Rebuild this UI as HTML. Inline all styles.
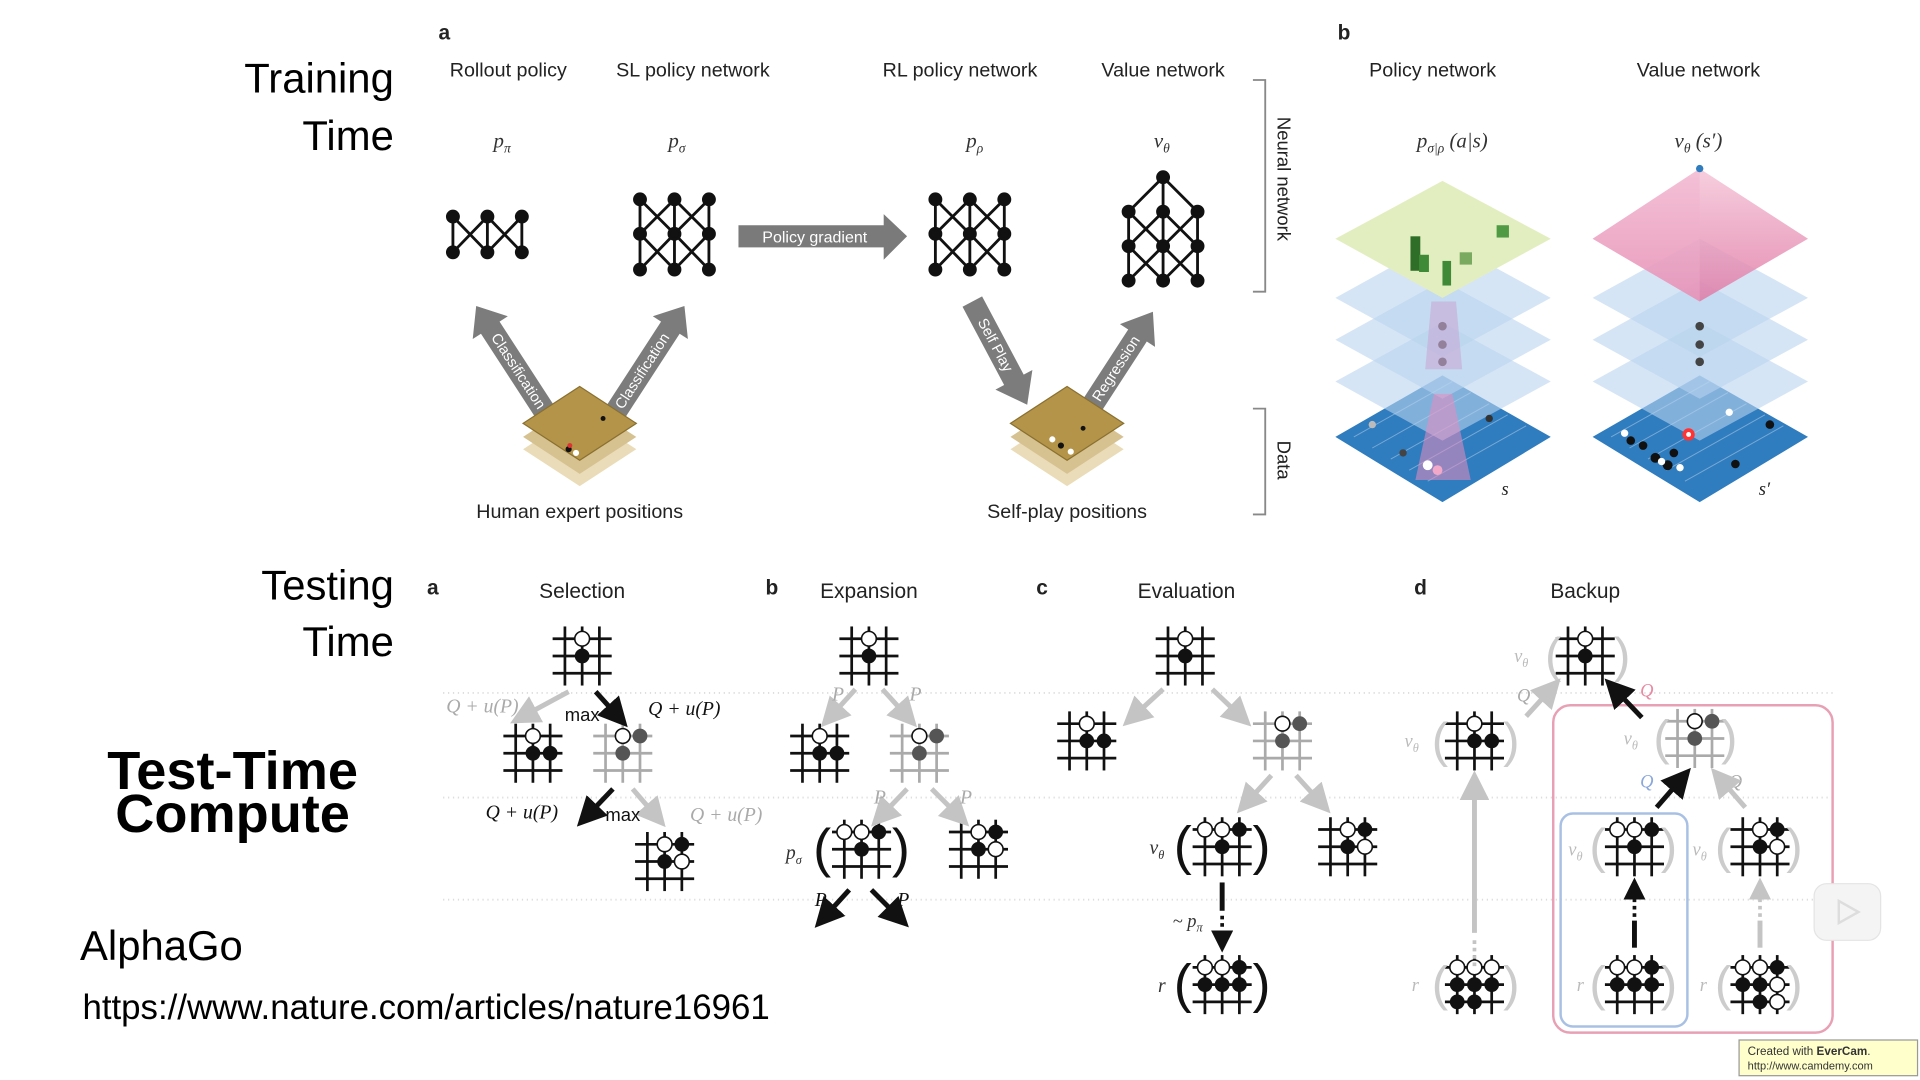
<!DOCTYPE html>
<html><head><meta charset="utf-8"><style>
html,body{margin:0;padding:0;background:#fff;}
svg{display:block}
.s{font-family:"Liberation Sans",sans-serif;}
.i{font-family:"Liberation Serif",serif;font-style:italic;}
</style></head><body>
<svg width="1920" height="1080" viewBox="0 0 1560 877.5" xmlns="http://www.w3.org/2000/svg">
<defs>
<g id="g" stroke="#111" stroke-width="2.2" fill="none">
<line x1="-14" y1="-24" x2="-14" y2="24"/><line x1="0" y1="-24" x2="0" y2="24"/><line x1="14" y1="-24" x2="14" y2="24"/>
<line x1="-24" y1="-14" x2="24" y2="-14"/><line x1="-24" y1="0" x2="24" y2="0"/><line x1="-24" y1="14" x2="24" y2="14"/>
</g>
<g id="gg" stroke="#aaa" stroke-width="2.2" fill="none">
<line x1="-14" y1="-24" x2="-14" y2="24"/><line x1="0" y1="-24" x2="0" y2="24"/><line x1="14" y1="-24" x2="14" y2="24"/>
<line x1="-24" y1="-14" x2="24" y2="-14"/><line x1="-24" y1="0" x2="24" y2="0"/><line x1="-24" y1="14" x2="24" y2="14"/>
</g>
<circle id="w" r="6" fill="#fff" stroke="#111" stroke-width="1.3"/>
<circle id="b" r="6" fill="#111"/>
<marker id="ah" markerWidth="6" markerHeight="6" refX="3" refY="3" orient="auto"><path d="M0,0 L6,3 L0,6z" fill="#111"/></marker>
<marker id="ahg" markerWidth="6" markerHeight="6" refX="3" refY="3" orient="auto"><path d="M0,0 L6,3 L0,6z" fill="#c4c4c4"/></marker>
<linearGradient id="pk" x1="0" y1="0" x2="0" y2="1"><stop offset="0" stop-color="#f5c6d8"/><stop offset="1" stop-color="#e07aa5"/></linearGradient>
</defs>

<g font-family="Liberation Sans, sans-serif" fill="#000">
<text x="320" y="75" font-size="34" text-anchor="end">Training</text>
<text x="320" y="122" font-size="34" text-anchor="end">Time</text>
<text x="320" y="487" font-size="34" text-anchor="end">Testing</text>
<text x="320" y="533" font-size="34" text-anchor="end">Time</text>
<text x="189" y="641" font-size="44" font-weight="bold" text-anchor="middle">Test-Time</text>
<text x="189" y="676" font-size="44" font-weight="bold" text-anchor="middle">Compute</text>
<text x="65" y="780" font-size="34">AlphaGo</text>
<text x="67" y="828" font-size="28.3">https://www.nature.com/articles/nature16961</text>
</g>

<g class="s" font-size="16" fill="#222" text-anchor="middle">
<text x="361" y="32" font-weight="bold" font-size="17">a</text>
<text x="413" y="62">Rollout policy</text>
<text x="563" y="62">SL policy network</text>
<text x="780" y="62">RL policy network</text>
<text x="945" y="62">Value network</text>
<text x="1092" y="32" font-weight="bold" font-size="17">b</text>
<text x="1164" y="62">Policy network</text>
<text x="1380" y="62">Value network</text>
<text x="471" y="421">Human expert positions</text>
<text x="867" y="421">Self-play positions</text>
</g>
<g class="i" font-size="17" fill="#333" text-anchor="middle">
<text x="408" y="120">p<tspan font-size="11" dy="4">π</tspan></text>
<text x="550" y="120">p<tspan font-size="11" dy="4">σ</tspan></text>
<text x="792" y="120">p<tspan font-size="11" dy="4">ρ</tspan></text>
<text x="944" y="120">v<tspan font-size="11" dy="4">θ</tspan></text>
<text x="1180" y="120">p<tspan font-size="11" dy="4">σ|ρ</tspan><tspan dy="-4"> (a|s)</tspan></text>
<text x="1380" y="120">v<tspan font-size="11" dy="4">θ</tspan><tspan dy="-4"> (s′)</tspan></text>
</g>

<g stroke="#111" stroke-width="2.3" fill="#111">
<path d="M368,176L368,205M396,176L396,205M424,176L424,205M368,176L396,205M396,176L368,205M396,176L424,205M424,176L396,205" fill="none"/>
<circle cx="368" cy="176" r="4.5"/><circle cx="396" cy="176" r="4.5"/><circle cx="424" cy="176" r="4.5"/>
<circle cx="368" cy="205" r="4.5"/><circle cx="396" cy="205" r="4.5"/><circle cx="424" cy="205" r="4.5"/>
<g id="sl">
<path d="M520,162L520,219M548,162L548,219M576,162L576,219M520,162L548,190L520,219M548,162L520,190L548,219M548,162L576,190L548,219M576,162L548,190L576,219" fill="none"/>
<circle cx="520" cy="162" r="4.5"/><circle cx="548" cy="162" r="4.5"/><circle cx="576" cy="162" r="4.5"/>
<circle cx="520" cy="190" r="4.5"/><circle cx="548" cy="190" r="4.5"/><circle cx="576" cy="190" r="4.5"/>
<circle cx="520" cy="219" r="4.5"/><circle cx="548" cy="219" r="4.5"/><circle cx="576" cy="219" r="4.5"/>
</g>
<use href="#sl" x="240"/>
<path d="M945,144L917,172L917,228M945,144L945,228M945,144L973,172L973,228M917,172L945,200L917,228M945,172L917,200L945,228M945,172L973,200L945,228M973,172L945,200L973,228M917,200L945,228M917,172L945,200" fill="none"/>
<circle cx="945" cy="144" r="4.5"/>
<circle cx="917" cy="172" r="4.5"/><circle cx="945" cy="172" r="4.5"/><circle cx="973" cy="172" r="4.5"/>
<circle cx="917" cy="200" r="4.5"/><circle cx="945" cy="200" r="4.5"/><circle cx="973" cy="200" r="4.5"/>
<circle cx="917" cy="228" r="4.5"/><circle cx="945" cy="228" r="4.5"/><circle cx="973" cy="228" r="4.5"/>
</g>

<path d="M600,183L718,183L718,174L737,192L718,211L718,201L600,201z" fill="#7a7a7a"/>
<text x="662" y="197" class="s" font-size="13" fill="#fff" text-anchor="middle">Policy gradient</text>

<g fill="#7c7c7c">
<g transform="translate(443,335) rotate(-33)"><path d="M-9,0L-9,-82L-17,-82L0,-103L17,-82L9,-82L9,0z"/><text x="0" y="-40" transform="rotate(90 0 -40)" class="s" font-size="12" fill="#fff" text-anchor="middle" dy="4">Classification</text></g>
<g transform="translate(500,335) rotate(33)"><path d="M-9,0L-9,-82L-17,-82L0,-103L17,-82L9,-82L9,0z"/><text x="0" y="-40" transform="rotate(-90 0 -40)" class="s" font-size="12" fill="#fff" text-anchor="middle" dy="4">Classification</text></g>
<g transform="translate(790,245) rotate(-28)"><path d="M-9,0L-9,72L-17,72L0,95L17,72L9,72L9,0z"/><text x="0" y="40" transform="rotate(90 0 40)" class="s" font-size="12" fill="#fff" text-anchor="middle" dy="4">Self Play</text></g>
<g transform="translate(885,333) rotate(33)"><path d="M-9,0L-9,-72L-17,-72L0,-95L17,-72L9,-72L9,0z"/><text x="0" y="-40" transform="rotate(-90 0 -40)" class="s" font-size="12" fill="#fff" text-anchor="middle" dy="4">Regression</text></g>
</g>

<g id="bd">
<path d="M471,335L517,365L471,395L425,365z" fill="#eadcb8"/>
<path d="M471,325L517,355L471,385L425,355z" fill="#d6c190"/>
<path d="M471,314L517,344L471,374L425,344z" fill="#b49448"/>
<path d="M471,314L517,344L471,374L425,344z" fill="none" stroke="#8a7030" stroke-width="1"/>
</g>
<circle cx="490" cy="340" r="2" fill="#111"/><circle cx="462" cy="365" r="2.5" fill="#111"/><circle cx="468" cy="368" r="2.5" fill="#fff"/><circle cx="463" cy="362" r="2" fill="#d33"/>
<use href="#bd" x="396"/>
<circle cx="855" cy="357" r="2.5" fill="#fff"/><circle cx="862" cy="362" r="2.5" fill="#111"/><circle cx="870" cy="367" r="2.5" fill="#fff"/><circle cx="880" cy="348" r="2" fill="#111"/>

<g stroke="#888" stroke-width="1.5" fill="none">
<path d="M1018,65L1028,65L1028,237L1018,237"/>
<path d="M1018,332L1028,332L1028,418L1018,418"/>
</g>
<text class="s" font-size="15" fill="#222" transform="translate(1038,95) rotate(90)">Neural network</text>
<text class="s" font-size="15" fill="#222" transform="translate(1038,358) rotate(90)">Data</text>

<g id="stk">
<path d="M1172,305L1260,355L1172,408L1085,355z" fill="#2f7cbf"/>
<g stroke="#fff" stroke-opacity="0.35" stroke-width="0.8">
<line x1="1100" y1="355" x2="1180" y2="310"/><line x1="1115" y1="364" x2="1195" y2="319"/><line x1="1130" y1="373" x2="1210" y2="328"/><line x1="1145" y1="382" x2="1225" y2="337"/><line x1="1160" y1="391" x2="1240" y2="346"/>
</g>
<path d="M1172,262L1260,310L1172,358L1085,310z" fill="#b9d4ee" fill-opacity="0.6"/>
<path d="M1172,228L1260,276L1172,324L1085,276z" fill="#b9d4ee" fill-opacity="0.6"/>
<path d="M1172,194L1260,242L1172,290L1085,242z" fill="#b9d4ee" fill-opacity="0.6"/>
<circle cx="1172" cy="265" r="3.5" fill="#444"/><circle cx="1172" cy="280" r="3.5" fill="#444"/><circle cx="1172" cy="294" r="3.5" fill="#444"/>
</g>
<path d="M1172,147L1260,194L1172,242L1085,194z" fill="#e3eec0"/>
<path d="M1163,245L1183,245L1188,300L1158,300z" fill="#c8a9d6" fill-opacity="0.6"/>
<path d="M1165,320L1180,320L1195,390L1150,390z" fill="#e88cc0" fill-opacity="0.55"/>
<rect x="1146" y="192" width="8" height="28" fill="#2f6e28"/><rect x="1153" y="207" width="8" height="14" fill="#3f8a36"/>
<rect x="1172" y="212" width="7" height="20" fill="#3f8a36"/><rect x="1186" y="205" width="10" height="10" fill="#7aa960"/><rect x="1216" y="183" width="10" height="10" fill="#4f9a43"/>
<circle cx="1160" cy="378" r="4" fill="#fff"/><circle cx="1168" cy="382" r="4" fill="#f2a8c8"/><circle cx="1140" cy="368" r="3" fill="#444"/><circle cx="1210" cy="340" r="3" fill="#333"/><circle cx="1115" cy="345" r="3" fill="#bbb"/>
<use href="#stk" x="209"/>
<path d="M1381,137L1469,194L1381,245L1294,194z" fill="url(#pk)" fill-opacity="0.85"/>
<path d="M1381,137L1381,245L1294,194z" fill="#f0b0cc" fill-opacity="0.4"/>
<circle cx="1381" cy="137" r="3" fill="#2f7cbf"/>
<circle cx="1372" cy="353" r="5" fill="#f33"/><circle cx="1372" cy="353" r="2" fill="#fff"/>
<g fill="#111"><circle cx="1325" cy="358" r="3.5"/><circle cx="1335" cy="362" r="3.5"/><circle cx="1345" cy="372" r="4"/><circle cx="1355" cy="378" r="4"/><circle cx="1360" cy="368" r="3.5"/><circle cx="1410" cy="377" r="3.5"/><circle cx="1438" cy="345" r="3.5"/></g>
<g fill="#fff"><circle cx="1320" cy="352" r="3"/><circle cx="1350" cy="375" r="3"/><circle cx="1365" cy="380" r="3"/><circle cx="1405" cy="335" r="3"/></g>
<text class="i" x="1220" y="402" font-size="15" fill="#222">s</text>
<text class="i" x="1429" y="402" font-size="15" fill="#222">s′</text>

<g stroke="#ddd" stroke-width="1.5" stroke-dasharray="1,3">
<line x1="360" y1="563" x2="1490" y2="563"/><line x1="360" y1="648" x2="1490" y2="648"/><line x1="360" y1="731" x2="1490" y2="731"/>
</g>
<g class="s" font-size="17" fill="#222">
<text x="347" y="483" font-weight="bold">a</text><text x="622" y="483" font-weight="bold">b</text><text x="842" y="483" font-weight="bold">c</text><text x="1149" y="483" font-weight="bold">d</text>
<text x="473" y="486" text-anchor="middle">Selection</text><text x="706" y="486" text-anchor="middle">Expansion</text><text x="964" y="486" text-anchor="middle">Evaluation</text><text x="1288" y="486" text-anchor="middle">Backup</text>
</g>

<g transform="translate(473,533)"><use href="#g"/><use href="#w" y="-14"/><use href="#b"/></g>
<g transform="translate(433,612)"><use href="#g"/><use href="#w" y="-14"/><use href="#b" y="0"/><use href="#b" x="14"/></g>
<g transform="translate(506,612)"><use href="#gg"/><use href="#w" y="-14"/><circle cx="14" cy="-14" r="6" fill="#555"/><circle r="6" fill="#555"/></g>
<g transform="translate(540,700)"><use href="#g"/><use href="#w" y="-14"/><use href="#b" x="14" y="-14"/><use href="#b"/><use href="#w" x="14"/></g>
<g stroke-width="4" fill="none">
<line x1="462" y1="562" x2="425" y2="582" stroke="#c4c4c4" marker-end="url(#ahg)"/>
<line x1="484" y1="562" x2="502" y2="582" stroke="#111" marker-end="url(#ah)"/>
<line x1="498" y1="641" x2="477" y2="663" stroke="#111" marker-end="url(#ah)"/>
<line x1="514" y1="641" x2="533" y2="663" stroke="#c4c4c4" marker-end="url(#ahg)"/>
</g>
<g class="i" font-size="16">
<text x="392" y="579" fill="#aaa" text-anchor="middle">Q + u(P)</text>
<text x="556" y="581" fill="#111" text-anchor="middle">Q + u(P)</text>
<text x="424" y="665" fill="#111" text-anchor="middle">Q + u(P)</text>
<text x="590" y="667" fill="#aaa" text-anchor="middle">Q + u(P)</text>
</g>
<text x="473" y="586" class="s" font-size="15" fill="#111" text-anchor="middle">max</text>
<text x="506" y="667" class="s" font-size="15" fill="#111" text-anchor="middle">max</text>

<g transform="translate(706,533)"><use href="#g"/><use href="#w" y="-14"/><use href="#b"/></g>
<g transform="translate(666,612)"><use href="#g"/><use href="#w" y="-14"/><use href="#b"/><use href="#b" x="14"/></g>
<g transform="translate(747,612)"><use href="#gg"/><use href="#w" y="-14"/><circle cx="14" cy="-14" r="6" fill="#555"/><circle r="6" fill="#555"/></g>
<g transform="translate(700,690)"><use href="#g"/><use href="#w" x="-14" y="-14"/><use href="#w" y="-14"/><use href="#b" x="14" y="-14"/><use href="#b"/></g>
<g transform="translate(795,690)"><use href="#g"/><use href="#w" y="-14"/><use href="#b" x="14" y="-14"/><use href="#b"/><use href="#w" x="14"/></g>
<text x="668" y="704" class="s" font-size="44" fill="#111" text-anchor="middle">(</text>
<text x="732" y="704" class="s" font-size="44" fill="#111" text-anchor="middle">)</text>
<text x="645" y="698" class="i" font-size="16" fill="#333" text-anchor="middle">p<tspan font-size="10" dy="4">σ</tspan></text>
<g stroke-width="4" fill="none">
<line x1="695" y1="560" x2="675" y2="582" stroke="#c4c4c4" marker-end="url(#ahg)"/>
<line x1="717" y1="560" x2="737" y2="582" stroke="#c4c4c4" marker-end="url(#ahg)"/>
<line x1="737" y1="641" x2="716" y2="663" stroke="#c4c4c4" marker-end="url(#ahg)"/>
<line x1="757" y1="641" x2="779" y2="663" stroke="#c4c4c4" marker-end="url(#ahg)"/>
<line x1="690" y1="723" x2="670" y2="745" stroke="#111" marker-end="url(#ah)"/>
<line x1="708" y1="723" x2="730" y2="745" stroke="#111" marker-end="url(#ah)"/>
</g>
<g class="i" font-size="16">
<text x="676" y="569" fill="#aaa">P</text><text x="739" y="569" fill="#aaa">P</text>
<text x="710" y="653" fill="#aaa">P</text><text x="780" y="653" fill="#aaa">P</text>
<text x="662" y="736" fill="#111">P</text><text x="729" y="736" fill="#111">P</text>
</g>

<g transform="translate(963,533)"><use href="#g"/><use href="#w" y="-14"/><use href="#b"/></g>
<g transform="translate(883,602)"><use href="#g"/><use href="#w" y="-14"/><use href="#b"/><use href="#b" x="14"/></g>
<g transform="translate(1042,602)"><use href="#gg"/><use href="#w" y="-14"/><circle cx="14" cy="-14" r="6" fill="#555"/><circle r="6" fill="#555"/></g>
<g transform="translate(993,688)"><use href="#g"/><use href="#w" x="-14" y="-14"/><use href="#w" y="-14"/><use href="#b" x="14" y="-14"/><use href="#b"/></g>
<g transform="translate(1095,688)"><use href="#g"/><use href="#w" y="-14"/><use href="#b" x="14" y="-14"/><use href="#b"/><use href="#w" x="14"/></g>
<g transform="translate(993,800)"><use href="#g"/><use href="#w" x="-14" y="-14"/><use href="#w" y="-14"/><use href="#b" x="14" y="-14"/><use href="#b" x="-14"/><use href="#b"/><use href="#b" x="14"/></g>
<text x="961" y="702" class="s" font-size="44" fill="#111" text-anchor="middle">(</text>
<text x="1025" y="702" class="s" font-size="44" fill="#111" text-anchor="middle">)</text>
<text x="961" y="814" class="s" font-size="44" fill="#111" text-anchor="middle">(</text>
<text x="1025" y="814" class="s" font-size="44" fill="#111" text-anchor="middle">)</text>
<text x="940" y="694" class="i" font-size="16" fill="#333" text-anchor="middle">v<tspan font-size="10" dy="4">θ</tspan></text>
<text x="944" y="806" class="i" font-size="16" fill="#333" text-anchor="middle">r</text>
<text x="965" y="753" class="i" font-size="15" fill="#333" text-anchor="middle">~ p<tspan font-size="10" dy="4">π</tspan></text>
<g stroke-width="4" fill="none">
<line x1="945" y1="560" x2="921" y2="582" stroke="#c4c4c4" marker-end="url(#ahg)"/>
<line x1="985" y1="560" x2="1008" y2="582" stroke="#c4c4c4" marker-end="url(#ahg)"/>
<line x1="1033" y1="630" x2="1013" y2="652" stroke="#c4c4c4" marker-end="url(#ahg)"/>
<line x1="1053" y1="630" x2="1073" y2="652" stroke="#c4c4c4" marker-end="url(#ahg)"/>
<line x1="993" y1="717" x2="993" y2="740" stroke="#111"/>
<line x1="993" y1="744" x2="993" y2="765" stroke="#111" stroke-dasharray="3,3" stroke-width="3" marker-end="url(#ah)"/>
</g>

<rect x="1262" y="573" width="227" height="266" rx="14" fill="none" stroke="#e8a0b4" stroke-width="2"/>
<rect x="1268" y="661" width="103" height="173" rx="10" fill="none" stroke="#a8c0e4" stroke-width="2"/>
<g transform="translate(1288,533)"><use href="#g"/><use href="#w" y="-14"/><use href="#b"/></g>
<g transform="translate(1198,602)"><use href="#g"/><use href="#w" y="-14"/><use href="#b"/><use href="#b" x="14"/></g>
<g transform="translate(1377,600)"><use href="#gg"/><use href="#w" y="-14"/><circle cx="14" cy="-14" r="6" fill="#555"/><circle r="6" fill="#555"/></g>
<g transform="translate(1328,688)"><use href="#g"/><use href="#w" x="-14" y="-14"/><use href="#w" y="-14"/><use href="#b" x="14" y="-14"/><use href="#b"/></g>
<g transform="translate(1430,688)"><use href="#g"/><use href="#w" y="-14"/><use href="#b" x="14" y="-14"/><use href="#b"/><use href="#w" x="14"/></g>
<g transform="translate(1198,800)"><use href="#g"/><use href="#w" x="-14" y="-14"/><use href="#w" y="-14"/><use href="#w" x="14" y="-14"/><use href="#b" x="-14"/><use href="#b"/><use href="#b" x="14"/><use href="#b" x="-14" y="14"/><use href="#b" y="14"/></g>
<g transform="translate(1328,800)"><use href="#g"/><use href="#w" x="-14" y="-14"/><use href="#w" y="-14"/><use href="#b" x="14" y="-14"/><use href="#b" x="-14"/><use href="#b"/><use href="#b" x="14"/></g>
<g transform="translate(1430,800)"><use href="#g"/><use href="#w" x="-14" y="-14"/><use href="#w" y="-14"/><use href="#b" x="14" y="-14"/><use href="#b" x="-14"/><use href="#b"/><use href="#w" x="14"/><use href="#b" y="14"/><use href="#w" x="14" y="14"/></g>
<g class="s" font-size="40" fill="#ccc" text-anchor="middle" font-weight="normal">
<text x="1262" y="546">(</text><text x="1318" y="546">)</text>
<text x="1170" y="615">(</text><text x="1228" y="615">)</text>
<text x="1350" y="613">(</text><text x="1405" y="613">)</text>
<text x="1298" y="701">(</text><text x="1356" y="701">)</text>
<text x="1400" y="701">(</text><text x="1458" y="701">)</text>
<text x="1170" y="813">(</text><text x="1228" y="813">)</text>
<text x="1298" y="813">(</text><text x="1356" y="813">)</text>
<text x="1400" y="813">(</text><text x="1458" y="813">)</text>
</g>
<g class="i" font-size="15" fill="#bbb" text-anchor="middle">
<text x="1236" y="538">v<tspan font-size="10" dy="4">θ</tspan></text>
<text x="1147" y="607">v<tspan font-size="10" dy="4">θ</tspan></text>
<text x="1325" y="605">v<tspan font-size="10" dy="4">θ</tspan></text>
<text x="1280" y="695">v<tspan font-size="10" dy="4">θ</tspan></text>
<text x="1381" y="695">v<tspan font-size="10" dy="4">θ</tspan></text>
<text x="1150" y="805">r</text><text x="1284" y="805">r</text><text x="1384" y="805">r</text>
</g>
<g class="i" font-size="15" text-anchor="middle">
<text x="1238" y="570" fill="#aaa">Q</text>
<text x="1338" y="566" fill="#e88aa4">Q</text>
<text x="1338" y="640" fill="#8aa8dc">Q</text>
<text x="1410" y="640" fill="#aaa">Q</text>
</g>
<g stroke-width="4" fill="none">
<line x1="1240" y1="582" x2="1260" y2="560" stroke="#c4c4c4" marker-end="url(#ahg)"/>
<line x1="1334" y1="583" x2="1312" y2="560" stroke="#111" marker-end="url(#ah)"/>
<line x1="1346" y1="656" x2="1366" y2="633" stroke="#111" marker-end="url(#ah)"/>
<line x1="1418" y1="656" x2="1398" y2="633" stroke="#c4c4c4" marker-end="url(#ahg)"/>
<line x1="1198" y1="785" x2="1198" y2="762" stroke="#c4c4c4" stroke-dasharray="3,3" stroke-width="3"/>
<line x1="1198" y1="758" x2="1198" y2="638" stroke="#c4c4c4" marker-end="url(#ahg)"/>
<line x1="1328" y1="770" x2="1328" y2="748" stroke="#111"/>
<line x1="1328" y1="745" x2="1328" y2="722" stroke="#111" stroke-dasharray="3,3" stroke-width="3" marker-end="url(#ah)"/>
<line x1="1430" y1="770" x2="1430" y2="748" stroke="#c4c4c4"/>
<line x1="1430" y1="745" x2="1430" y2="722" stroke="#c4c4c4" stroke-dasharray="3,3" stroke-width="3" marker-end="url(#ahg)"/>
</g>

<rect x="1474" y="718" width="54" height="46" rx="10" fill="#f4f4f4" stroke="#e4e4e4"/>
<path d="M1494,732L1510,741L1494,750z" fill="none" stroke="#ddd" stroke-width="2"/>

<rect x="1413" y="845" width="145" height="29" fill="#ffffcc" stroke="#999"/>
<text x="1420" y="857" class="s" font-size="9.5" fill="#333">Created with <tspan font-weight="bold">EverCam</tspan>.</text>
<text x="1420" y="869" class="s" font-size="9" fill="#333">http://www.camdemy.com</text>
</svg>
</body></html>
